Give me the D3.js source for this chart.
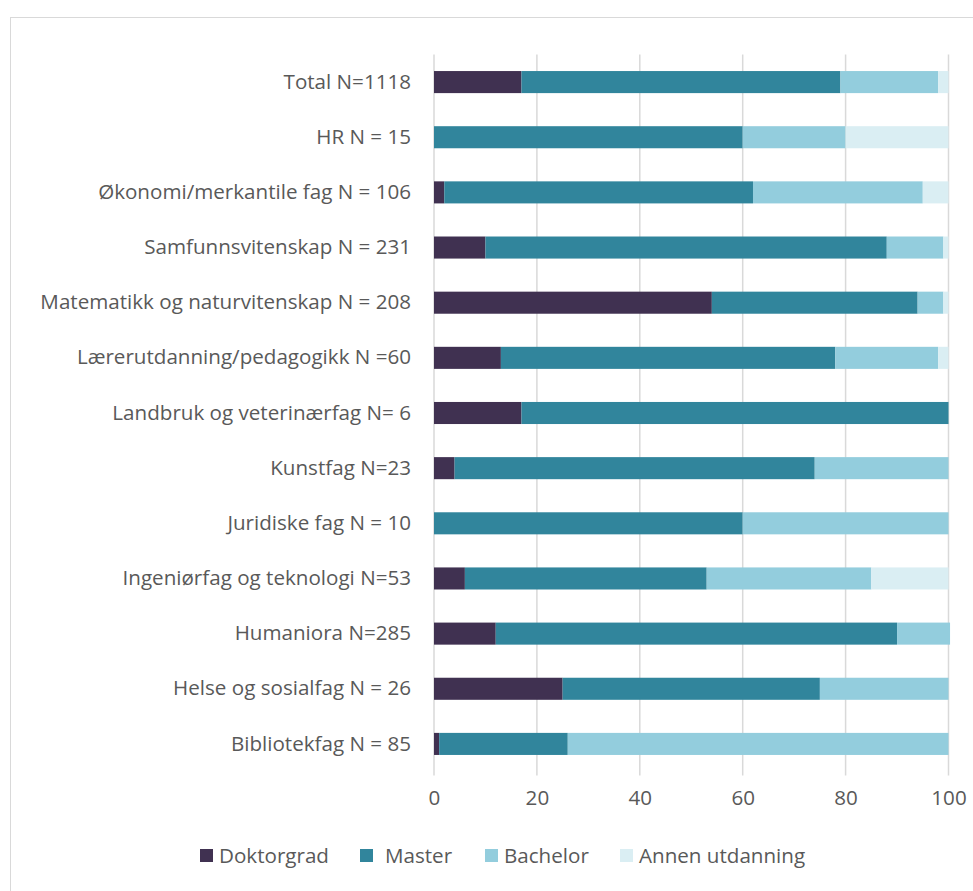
<!DOCTYPE html>
<html>
<head>
<meta charset="utf-8">
<script src="https://cdn.jsdelivr.net/npm/d3@7"></script>
<style>
  html, body { margin: 0; padding: 0; background: #fff; }
  svg { display: block; }
</style>
</head>
<body>
<svg id="chart" width="973" height="891"></svg>
<script>
// Fields of study (top to bottom)
const categories = [
  "Total N=1118",
  "HR N = 15",
  "Økonomi/merkantile fag N = 106",
  "Samfunnsvitenskap N = 231",
  "Matematikk og naturvitenskap N = 208",
  "Lærerutdanning/pedagogikk N =60",
  "Landbruk og veterinærfag N= 6",
  "Kunstfag N=23",
  "Juridiske fag N = 10",
  "Ingeniørfag og teknologi N=53",
  "Humaniora N=285",
  "Helse og sosialfag N = 26",
  "Bibliotekfag N = 85"
];

// Share (%) by highest education level
const doktorgrad = [17, 0, 2, 10, 54, 13, 17, 4, 0, 6, 12, 25, 1];
const master     = [62, 60, 60, 78, 40, 65, 83, 70, 60, 47, 78, 50, 25];
const bachelor   = [19, 20, 33, 11, 5, 20, 0, 26, 40, 32, 10.3, 25, 74];
const annen      = [2, 20, 5, 1, 1, 2, 0, 0, 0, 15, 0, 0, 0];

const seriesNames = ["Doktorgrad", "Master", "Bachelor", "Annen utdanning"];
const seriesColors = ["#403151", "#31859C", "#93CDDD", "#DAEEF3"];
const xTicks = [0, 20, 40, 60, 80, 100];

const rows = categories.map((c, i) => ({
  category: c,
  "Doktorgrad": doktorgrad[i],
  "Master": master[i],
  "Bachelor": bachelor[i],
  "Annen utdanning": annen[i]
}));

const svg = d3.select("#chart");
const font = "'Open Sans', sans-serif";
const fontSize = 20.6;
const textColor = "#595959";

// Chart frame
svg.append("rect")
  .attr("x", 10.5).attr("y", 17.5)
  .attr("width", 980).attr("height", 900)
  .attr("fill", "#fff")
  .attr("stroke", "#D9D9D9").attr("stroke-width", 1);

const plot = { left: 434, right: 948.5, top: 54.5, bottom: 771.5 };

const x = d3.scaleLinear().domain([0, 100]).range([plot.left, plot.right]);
const y = d3.scaleBand().domain(categories).range([plot.top, plot.bottom]).paddingInner(0.6).paddingOuter(0.3);

// Vertical gridlines
svg.append("g")
  .selectAll("line")
  .data(xTicks)
  .join("line")
  .attr("x1", d => x(d)).attr("x2", d => x(d))
  .attr("y1", plot.top).attr("y2", plot.bottom + 4)
  .attr("stroke", "#D9D9D9").attr("stroke-width", 1.5);

// Stacked bars
const stack = d3.stack().keys(seriesNames);
const stacked = stack(rows);

svg.append("g")
  .selectAll("g")
  .data(stacked)
  .join("g")
  .attr("fill", (d, i) => seriesColors[i])
  .selectAll("rect")
  .data(d => d)
  .join("rect")
  .attr("x", d => x(d[0]))
  .attr("y", d => y(d.data.category))
  .attr("width", d => Math.max(0, x(d[1]) - x(d[0])))
  .attr("height", y.bandwidth());

// Category labels
const yAxis = d3.axisLeft(y).tickSize(0).tickPadding(23);
const gy = svg.append("g").attr("transform", `translate(${plot.left},0)`).call(yAxis);
gy.select(".domain").remove();
gy.selectAll("text")
  .attr("font-family", font).attr("font-size", fontSize)
  .attr("fill", textColor);

// X tick labels
const xAxis = d3.axisBottom(x).tickValues(xTicks).tickSize(0).tickPadding(19);
const gx = svg.append("g").attr("transform", `translate(0,${plot.bottom})`).call(xAxis);
gx.select(".domain").remove();
gx.selectAll("text")
  .attr("font-family", font).attr("font-size", fontSize)
  .attr("fill", textColor);

// Legend
const legendX = [200, 360, 485, 620];
const legend = svg.append("g");
seriesNames.forEach((name, i) => {
  legend.append("rect")
    .attr("x", legendX[i]).attr("y", 849)
    .attr("width", 13).attr("height", 13)
    .attr("fill", seriesColors[i]);
  legend.append("text")
    .attr("x", legendX[i] + (i === 1 ? 25 : 19)).attr("y", 856)
    .attr("dy", "0.35em")
    .attr("font-family", font).attr("font-size", fontSize)
    .attr("fill", textColor)
    .text(name);
});
</script>
</body>
</html>
